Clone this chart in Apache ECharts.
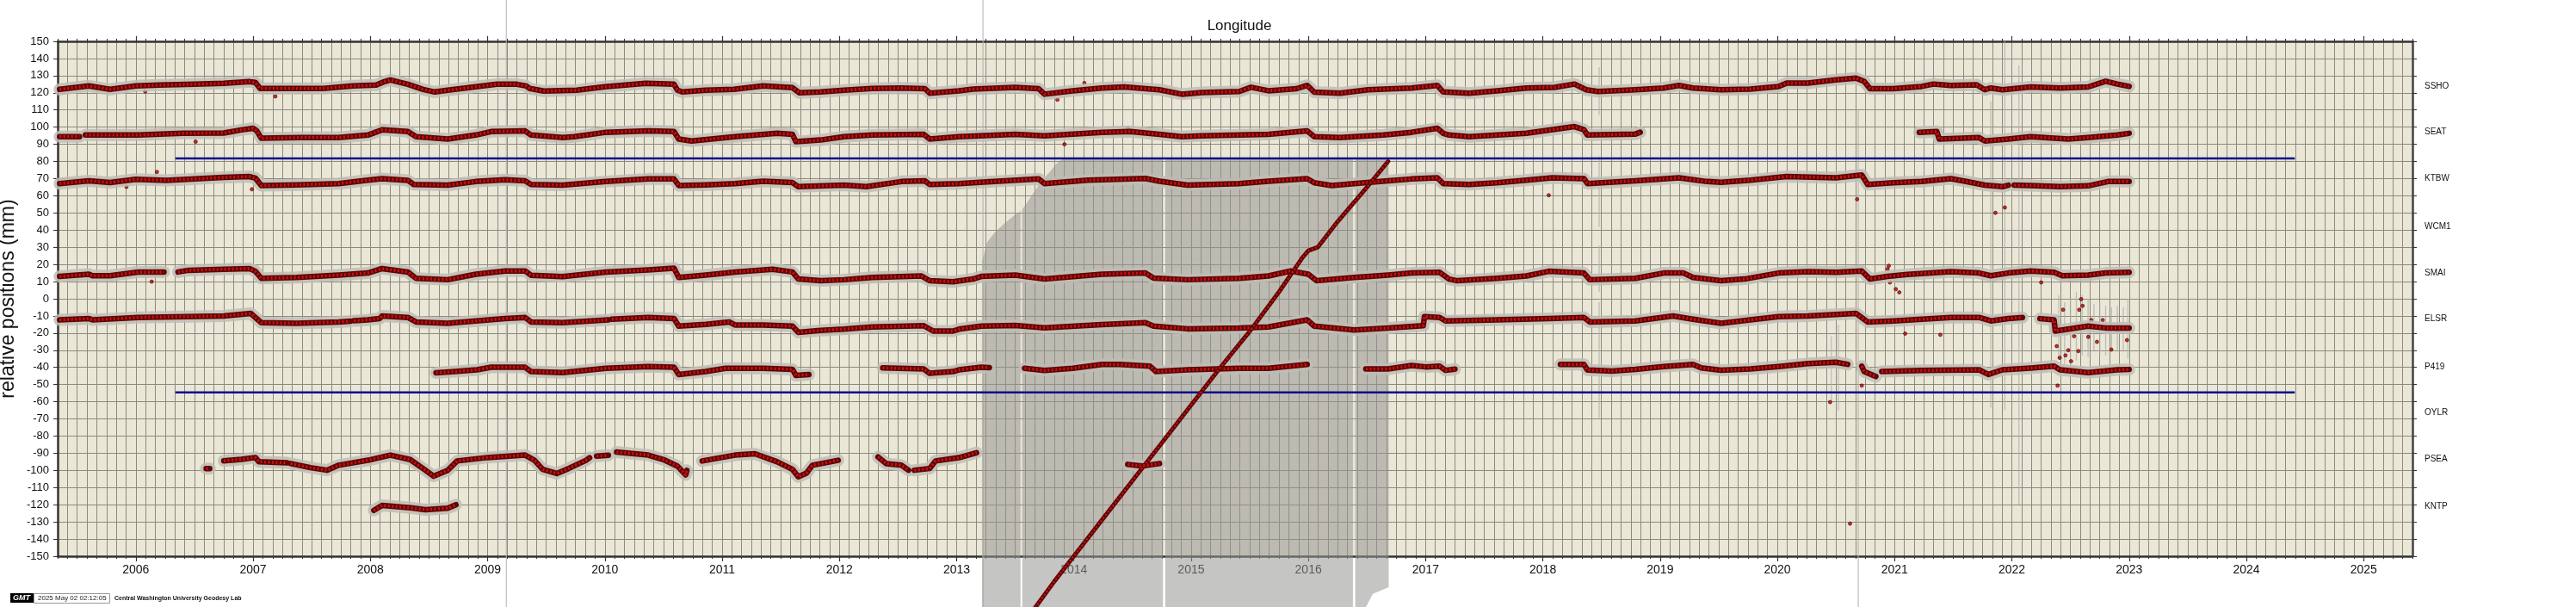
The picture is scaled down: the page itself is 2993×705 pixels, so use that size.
<!DOCTYPE html>
<html><head><meta charset="utf-8">
<script src="https://cdn.jsdelivr.net/npm/echarts@6/dist/echarts.min.js"></script>
<style>html,body{margin:0;padding:0;background:#fff}#c{width:2993px;height:705px}</style>
</head><body><div id="c"></div>
<script>
// ---------- axis / label values ----------
const YEARS = [2006,2007,2008,2009,2010,2011,2012,2013,2014,2015,2016,2017,2018,2019,2020,2021,2022,2023,2024,2025];
const STATION_NAMES = ['SSHO','SEAT','KTBW','WCM1','SMAI','ELSR','P419','OYLR','PSEA','KNTP'];
const STATION_LABEL_POS = [124, 97, 70, 42.2, 15.1, -11.8, -39.6, -66.5, -93.6, -121.2];
const BLUE_LINES = [[2006.338, 2024.413, 81.8], [2006.338, 2024.413, -54.6]];

// ---------- station series [decimal year, mm]; null = data gap ----------
const SSHO = [[2005.35,122],[2005.6,124],[2005.78,122],[2006.0,124],[2006.2,124.5],[2006.5,125],[2006.75,125.5],[2006.97,126.5],[2007.02,126],[2007.06,122.5],[2007.3,122.5],[2007.6,122.5],[2007.85,124],[2008.05,124.5],[2008.12,126.5],[2008.17,127.5],[2008.32,125],[2008.45,122],[2008.55,120.5],[2008.66,121.5],
[2008.9,123.5],[2009.08,125],[2009.25,125],[2009.33,124],[2009.36,122.5],[2009.48,121],[2009.76,121.5],[2010.0,123.5],[2010.35,125.5],[2010.59,125],[2010.62,121.5],[2010.66,120.5],[2010.86,121.5],[2011.1,122],[2011.35,124],[2011.6,123],[2011.66,120],[2011.84,120.5],[2012.04,121.5],
[2012.28,122.5],[2012.53,122.8],[2012.73,122.4],[2012.77,119.8],[2013.02,121.2],[2013.14,122.2],[2013.5,123.2],[2013.7,122.4],[2013.75,119.2],[2013.99,121.2],[2014.24,122.8],[2014.43,123.4],[2014.73,121.8],[2014.92,119.2],[2015.09,120.2],[2015.41,120.8],
[2015.51,123.2],[2015.66,121.2],[2015.9,122.4],[2015.99,124.3],[2016.05,120.4],[2016.27,119.8],[2016.51,121.8],[2016.88,122.8],[2017.1,124.3],[2017.15,120.5],[2017.37,119.8],[2017.61,121.2],[2017.86,122.8],[2018.1,123.2],[2018.27,125.1],[2018.37,121.8],[2018.47,120.8],[2018.79,121.8],
[2019.03,122.8],[2019.16,124.3],[2019.28,122.8],[2019.52,121.8],[2019.77,122.2],[2020.01,123.7],[2020.08,125.7],[2020.26,125.7],[2020.5,127.6],[2020.67,128.6],[2020.74,126.7],[2020.79,122.4],[2020.99,122.4],[2021.23,123.7],[2021.33,125.1],[2021.48,124.3],[2021.7,124.7],[2021.77,121.8],[2021.82,122.8],[2021.92,121.8],[2022.16,123.4],
[2022.41,122.8],[2022.65,123.4],[2022.8,126.7],[2022.9,125.1],[2023.0,123.7]];

const SEAT = [[2005.35,94.4],[2005.52,94.4],[2005.54,null],[2005.57,95.4],[2006.02,95.4],[2006.4,96.4],[2006.75,96.6],[2006.9,98.4],[2007.0,99.3],[2007.03,98],[2007.07,93.5],[2007.4,93.9],[2007.73,93.9],[2007.98,95.4],[2008.1,98.4],[2008.32,97.4],[2008.39,94.4],[2008.66,93.1],
[2008.9,95.4],[2009.03,97.4],[2009.32,97.8],[2009.37,95.4],[2009.64,93.9],[2009.74,94.4],[2010.01,97],[2010.37,97.8],[2010.59,97.4],[2010.63,93.1],[2010.74,91.9],[2011.11,94.4],[2011.47,96.4],[2011.6,95.8],[2011.63,91.5],[2011.84,92.5],[2012.04,94.4],
[2012.28,95.4],[2012.72,95.8],[2012.77,93.1],[2013.02,94.4],[2013.5,95.8],[2013.75,95],[2014.24,97],[2014.48,97.4],[2014.73,95.8],[2014.92,94.4],[2015.09,95],[2015.41,95.4],
[2015.66,95.8],[2015.99,97.8],[2016.05,94.4],[2016.27,93.9],[2016.64,95.4],[2016.88,97],[2017.1,99.3],[2017.15,96.4],[2017.2,95.4],[2017.37,94.4],[2017.86,96.4],[2018.27,100.3],[2018.35,98.5],[2018.38,95.4],[2018.79,96],[2018.83,97],
[2018.85,null],
[2021.21,97],[2021.36,97.4],[2021.38,93.1],[2021.72,93.9],[2021.77,91.9],[2021.97,93.1],[2022.16,94.4],
[2022.48,93.1],[2022.65,93.9],[2022.9,95.4],[2023.0,96.4]];

const KTBW = [[2005.35,67.1],[2005.6,68.7],[2005.78,67.7],[2006.0,69.6],[2006.26,69],[2006.75,70.7],[2006.97,71.2],[2007.02,70.3],[2007.07,66],[2007.37,66.4],[2007.73,67.1],[2007.98,69.1],[2008.1,70],[2008.32,69],[2008.37,66.6],[2008.66,66.2],
[2008.9,68.3],[2009.15,69.3],[2009.32,68.7],[2009.37,66.6],[2009.64,66.2],[2010.01,68.3],[2010.37,69.8],[2010.59,69.8],[2010.63,66],[2010.86,66.4],[2011.11,67.1],[2011.35,68.5],[2011.6,67.7],[2011.65,65.3],[2012.04,66.2],
[2012.23,65.3],[2012.53,68.3],[2012.73,68.7],[2012.77,66.6],[2013.02,67.1],[2013.26,68.1],[2013.7,69.8],[2013.75,67.1],[2014.12,69.1],[2014.61,70.1],[2014.73,68.5],[2014.97,66.2],[2015.41,67.1],
[2015.66,68.5],[2015.99,70],[2016.05,67.6],[2016.2,66],[2016.39,67.1],[2016.68,68.7],[2016.88,69.8],[2017.1,70.5],[2017.15,67.1],[2017.37,66.6],[2017.61,67.6],[2017.86,69.1],[2018.08,70.5],[2018.35,70],[2018.38,67.1],[2018.79,68.7],
[2019.16,70.5],[2019.4,68.3],[2019.52,67.9],[2019.77,69.1],[2020.08,71.2],[2020.5,70.5],[2020.72,72.1],[2020.77,66.6],[2020.99,67.6],[2021.23,68.3],[2021.48,70],[2021.6,68.5],[2021.77,66.2],[2021.92,65.3],[2021.97,66.2],[2021.99,null],[2022.02,66.2],[2022.16,66],
[2022.41,65.3],[2022.65,65.8],[2022.82,68.3],[2023.0,68.3]];

const SMAI = [[2005.35,13],[2005.6,14.3],[2005.63,13.4],[2005.78,13.4],[2006.02,15.6],[2006.24,15.6],[2006.25,null],[2006.36,15.6],[2006.45,16.6],[2006.75,17.2],[2006.97,17.6],[2007.02,16],[2007.07,11.9],[2007.37,12.4],[2007.73,13.8],[2007.98,15],[2008.1,17.6],[2008.32,15.6],[2008.39,11.9],[2008.66,11.1],
[2008.9,14.3],[2009.15,16.2],[2009.32,16.2],[2009.37,13.7],[2009.64,12.9],[2010.01,15.6],[2010.37,16.8],[2010.59,17.8],[2010.63,12.4],[2010.86,13.8],[2011.11,15.6],[2011.43,17.2],[2011.6,15.6],[2011.65,11.5],[2011.84,10.5],[2012.04,11.1],
[2012.28,12.4],[2012.7,13.3],[2012.77,10.5],[2012.97,9.9],[2013.14,11.5],[2013.21,13],[2013.5,13.8],[2013.75,11.5],[2014.24,14.3],[2014.61,15],[2014.68,12],[2014.97,11.1],[2015.41,11.9],
[2015.66,13.3],[2015.85,16.2],[2016.0,14.3],[2016.07,10.5],[2016.39,12.4],[2016.68,13.8],[2016.88,15],[2017.12,15.4],[2017.2,11.5],[2017.27,10.5],[2017.61,11.9],[2017.86,13.3],[2018.05,16],[2018.35,15],[2018.4,11.1],[2018.79,11.9],
[2019.03,15],[2019.2,15],[2019.28,12.4],[2019.52,10.5],[2019.72,11.5],[2020.01,15],[2020.26,15.8],[2020.5,15.4],[2020.72,16.2],[2020.79,11.5],[2020.94,13],[2021.11,14.2],[2021.48,15.8],[2021.72,15],[2021.82,13.4],[2021.97,15],[2022.16,16.2],
[2022.36,15.4],[2022.43,13.4],[2022.65,13.8],[2022.8,15],[2023.0,15.4]];

const ELSR = [[2005.35,-12.3],[2005.6,-11.5],[2005.63,-12.3],[2006.02,-10.9],[2006.75,-10],[2006.98,-8.5],[2007.07,-13.9],[2007.37,-14.3],[2007.73,-13.5],[2007.83,-13],[2007.84,null],[2007.86,-12.8],[2007.98,-12.3],[2008.08,-11.5],[2008.1,-10],[2008.32,-10.9],[2008.39,-13.5],[2008.66,-14.3],
[2008.9,-12.9],[2009.15,-11.5],[2009.32,-10.9],[2009.37,-13.5],[2009.64,-13.9],[2010.03,-12.3],[2010.04,null],[2010.06,-11.9],[2010.37,-10.9],[2010.59,-11.5],[2010.63,-15.9],[2010.86,-14.9],[2011.06,-13.5],[2011.11,-15.3],[2011.35,-15.3],[2011.6,-15.9],[2011.65,-19.6],[2011.84,-18.4],[2012.04,-17.7],
[2012.28,-16.4],[2012.72,-15.7],[2012.8,-18.8],[2012.97,-18.8],[2013.02,-17.7],[2013.21,-15.9],[2013.5,-15.5],[2013.75,-16.9],[2014.24,-15],[2014.61,-13.9],[2014.68,-15.9],[2014.97,-17.5],[2015.41,-17.1],
[2015.66,-16.4],[2015.99,-12.3],[2016.05,-15.9],[2016.39,-18.2],[2016.68,-17.1],[2016.98,-15.7],[2016.99,-10.4],[2017.12,-10.9],[2017.17,-12.9],[2017.61,-12.3],[2018.05,-11.5],[2018.35,-10.9],[2018.4,-13.5],[2018.79,-12.9],
[2019.11,-10],[2019.28,-11.9],[2019.52,-14.3],[2019.77,-12.3],[2020.01,-10.4],[2020.26,-10],[2020.67,-8.5],[2020.77,-13.5],[2020.99,-12.9],[2021.48,-10.9],[2021.72,-10.9],[2021.82,-12.9],[2021.97,-11.5],[2022.09,-10.9],[2022.11,null],[2022.24,-11.6],[2022.36,-12.3],[2022.37,-18.8],[2022.65,-15.9],[2022.8,-17],[2023.0,-17.1]];

const P419 = [[2008.56,-43.2],[2008.72,-42.4],[2008.91,-41.4],[2009.03,-39.9],[2009.32,-39.9],[2009.37,-42.4],[2009.64,-43],[2010.01,-40.5],[2010.37,-39.5],[2010.59,-39.9],[2010.63,-44.1],[2010.86,-42.4],[2011.03,-40.5],[2011.35,-40.5],[2011.6,-41.1],[2011.63,-44.7],[2011.74,-44.1],
[2011.9,null],
[2012.37,-40.3],[2012.72,-40.9],[2012.77,-43.4],[2012.97,-42.4],[2013.02,-41.4],[2013.21,-39.9],[2013.28,-40.1],
[2013.4,null],
[2013.58,-40.5],[2013.75,-41.8],[2013.99,-40.5],[2014.24,-38.3],[2014.39,-38.3],[2014.65,-39.3],[2014.7,-42.4],[2014.97,-41.4],[2015.41,-40.5],[2015.66,-40.5],[2015.99,-38.3],
[2016.2,null],
[2016.49,-40.9],[2016.68,-40.9],[2016.88,-38.9],[2017.0,-39.7],[2017.12,-39.3],[2017.17,-41.7],[2017.25,-41],
[2017.6,null],
[2018.15,-38.3],[2018.35,-38.3],[2018.38,-41.5],[2018.59,-42.1],[2018.79,-41.1],[2019.03,-39.5],[2019.28,-38.3],[2019.35,-40.3],[2019.52,-41.6],[2019.77,-40.9],[2020.01,-39.5],[2020.26,-37.8],[2020.5,-37],[2020.6,-38.2],
[2020.65,null],
[2020.72,-39.3],[2020.74,-42.4],[2020.84,-45.3],
[2020.86,null],
[2020.89,-42.4],[2021.23,-41.8],[2021.72,-41.4],[2021.8,-44.1],[2021.92,-41.4],[2022.16,-40.4],[2022.36,-39.3],[2022.41,-41.4],[2022.65,-43],[2022.9,-41.4],[2023.0,-41.2]];

const WCM1 = [[2013.22,-222],[2013.5,-196],[2013.67,-180],[2013.83,-165],[2014.0,-150],[2014.25,-128],[2014.5,-106],[2014.75,-84],[2015.0,-62],[2015.25,-40],[2015.5,-19],[2015.75,4],[2015.95,24],[2016.0,28],[2016.08,30],[2016.25,45],[2016.5,65],[2016.68,80]];

const PSEA = [[2006.6,-98.9],[2006.63,-98.9],
[2006.68,null],
[2006.75,-94.4],[2006.9,-93.6],[2007.02,-92.5],[2007.05,-95],[2007.29,-95.6],
[2007.3,null],
[2007.32,-96],[2007.49,-98.4],[2007.63,-99.9],[2007.73,-97],[2007.98,-94.1],[2008.17,-91.1],[2008.34,-93.7],[2008.47,-99.9],[2008.54,-103.4],[2008.66,-100],[2008.74,-94.5],[2009.0,-92.5],[2009.32,-91.1],[2009.4,-94.1],[2009.47,-99.4],[2009.59,-101.8],[2009.69,-98.9],[2009.84,-94.1],[2009.87,-92.6],
[2009.9,null],
[2009.93,-91.7],[2010.03,-91.2],
[2010.07,null],
[2010.1,-89.3],[2010.37,-91.1],[2010.5,-93.7],[2010.62,-97.6],[2010.69,-102.6],[2010.7,-100],
[2010.75,null],
[2010.83,-94.5],[2011.11,-91.1],[2011.28,-90.3],[2011.47,-95],[2011.6,-99.4],[2011.65,-103.7],[2011.72,-101.6],[2011.77,-97],[2011.99,-94.1],
[2012.15,null],
[2012.33,-92.2],[2012.4,-96.1],[2012.53,-97],[2012.59,-99.9],
[2012.62,null],
[2012.64,-99.9],[2012.77,-98.9],[2012.82,-94.5],[2013.02,-92.6],[2013.17,-89.7],
[2013.5,null],
[2014.46,-96.5],[2014.58,-97.5],[2014.73,-96]];

const KNTP = [[2008.03,-123.3],[2008.1,-120.4],[2008.34,-121.8],[2008.47,-122.9],[2008.66,-122],[2008.73,-120]];

// WCM1 error envelope [year, upper, lower]; null = gap between segments
const WCM1_ERR = [[2013.218,22,-260],[2013.26,33,-260],[2013.33,39,-260],[2013.41,44,-260],[2013.5,49,-260],[2013.545,51,-260],
null,
[2013.56,52,-260],[2013.6,56,-260],[2013.72,68,-260],[2013.87,80,-260],[2013.92,82,-260],[2014.76,82,-260],
null,
[2014.78,82,-260],[2016.38,82,-260],
null,
[2016.40,82,-260],[2016.45,82,-185],[2016.55,82,-172],[2016.685,82,-168]];

// isolated large error bars [year, low, high]
const ERRBARS = [[2009.16,-200,200],[2013.225,-260,200],[2018.48,107,135],[2018.48,42,83],[2018.48,4,31],[2018.48,-70,-2],
[2020.46,-61,-22],[2020.52,-65,-15],[2020.69,-200,110],[2021.82,-63.5,115],[2021.94,-65,150],[2022.06,-120,136],
[2022.40,-35,2],[2022.45,-38,-2],[2022.5,-40,0],[2022.55,-36,4],[2022.6,-33,2],[2022.65,-34,0],[2022.7,-30,-3],[2022.75,-32,-2],[2022.8,-33,-4],[2022.85,-30,-5],[2022.9,-31,-4],[2022.95,-30,-5],[2022.99,-35,0]];

// isolated points
const OUTLIERS = [[2007.19,117.9],[2006.08,120.8],[2006.51,91.5],[2006.99,63.8],[2006.18,73.9],[2005.92,65.2],[2006.135,10],[2014.09,125.7],[2013.86,116],[2013.92,90],[2014.46,99.3],[2018.05,60.3],[2020.68,58],[2021.86,50.1],[2021.94,53.2],[2020.45,-60.2],[2020.72,-50.6],[2021.09,-20.3],[2021.39,-21],[2020.62,-131],[2022.39,-50.6],[2022.25,9.5],
[2020.94,17.3],[2020.96,9.5],[2021.01,5.6],[2021.04,3.7],[2020.99,13.4],[2020.95,19.2],
[2022.383,-27.6],[2022.408,-34.4],[2022.437,-6.4],[2022.457,-33],[2022.481,-30],[2022.505,-36.4],[2022.53,-21.8],[2022.567,-30.5],[2022.574,-6.4],[2022.591,-0.2],[2022.603,-4.1],[2022.652,-22.2],[2022.677,-12.4],[2022.726,-25.1],[2022.775,-12.4],[2022.848,-29.6],[2022.897,-18.3],[2022.982,-24.1],[2022.395,-16]];

// ---------- chart ----------
const FONT = '"Liberation Sans", Arial, Helvetica, sans-serif';
const XMIN = 24064/12, XMAX = 24305/12;
const HALO = 'rgba(190,189,182,0.85)', DARK = '#5e0606', BRIGHT = '#cf1010', GRID = '#8b8a80', AXIS = '#333';

function lineSer(data, color, width, dash) {
  return {type:'line', data, symbol:'none', showSymbol:false, connectNulls:false, clip:false, silent:true,
    animation:false, xAxisIndex:0, yAxisIndex:0,
    lineStyle:{color, width, cap: dash ? 'butt' : 'round', join:'round', type: dash || 'solid'}};
}

const series = [];
BLUE_LINES.forEach(b => series.push(Object.assign(lineSer([[b[0], b[2]], [b[1], b[2]]], '#0b0b8c', 2.5), {lineStyle:{color:'#0b0b8c', width:2.5, cap:'butt'}})));
series.push({type:'custom', clip:false, silent:true, animation:false, data: ERRBARS, encode:{x:0, y:[1,2]},
  renderItem: (p, api) => {
    const a = api.coord([api.value(0), api.value(1)]), b = api.coord([api.value(0), api.value(2)]);
    return {type:'line', shape:{x1:a[0], y1:a[1], x2:b[0], y2:b[1]}, style:{stroke:'rgba(175,175,172,0.75)', lineWidth:1.3}};
  }});
const groupA = [SSHO, SEAT, KTBW, SMAI, ELSR, P419];
groupA.forEach(d => series.push(lineSer(d, HALO, 14)));
groupA.forEach(d => series.push(lineSer(d, DARK, 6.5)));
groupA.forEach(d => series.push(lineSer(d, BRIGHT, 3.5, [2, 2.5])));

// WCM1 error band segments
const segs = []; let cur = [];
WCM1_ERR.forEach(p => { if (p === null) { if (cur.length) segs.push(cur); cur = []; } else cur.push(p); });
if (cur.length) segs.push(cur);
series.push({type:'custom', clip:false, silent:true, animation:false, data: segs.map((s, i) => [s[0][0], s[0][1], i]), encode:{x:0, y:1},
  renderItem: (p, api) => {
    const s = segs[api.value(2)];
    const pts = s.map(q => api.coord([q[0], q[1]])).concat(s.slice().reverse().map(q => api.coord([q[0], q[2]])));
    return {type:'polygon', shape:{points: pts}, style:{fill:'rgba(150,150,147,0.55)'}};
  }});

[PSEA, KNTP].forEach(d => series.push(lineSer(d, HALO, 14)));
series.push(lineSer(WCM1, DARK, 5));
[PSEA, KNTP].forEach(d => series.push(lineSer(d, DARK, 6.5)));
series.push(lineSer(WCM1, BRIGHT, 2.2, [2, 2.5]));
[PSEA, KNTP].forEach(d => series.push(lineSer(d, BRIGHT, 3.5, [2, 2.5])));
series.push({type:'scatter', data: OUTLIERS, symbolSize:4, clip:false, silent:true, animation:false,
  itemStyle:{color:'#c80000', borderColor:'#3a0000', borderWidth:0.8}});

const xBase = {type:'value', min: XMIN, max: XMAX, gridIndex:0};
const chart = echarts.init(document.getElementById('c'), null, {renderer:'canvas'});
chart.setOption({
  animation:false,
  backgroundColor:'#ffffff',
  title:{text:'Longitude', left:1435, top:17, textAlign:'center',
    textStyle:{fontSize:17, fontWeight:'normal', color:'#111', fontFamily:FONT}},
  grid:{left:67, right:190, top:48, bottom:59, show:true, backgroundColor:'#ebe7d6', borderWidth:0,
    containLabel:false, outerBoundsMode:'none'},
  xAxis:[
    Object.assign({}, xBase, {position:'bottom', interval:1/12,
      axisLine:{show:true, onZero:false, lineStyle:{color:AXIS, width:2.5}},
      axisTick:{show:true, length:3, lineStyle:{color:AXIS, width:1}},
      axisLabel:{customValues: YEARS, formatter: v => String(Math.round(v)), fontSize:14, color:'#111', margin:9, fontFamily:FONT},
      splitLine:{show:true, lineStyle:{color:GRID, width:1}}}),
    Object.assign({}, xBase, {position:'top', interval:1/12,
      axisLine:{show:true, onZero:false, lineStyle:{color:AXIS, width:2.5}},
      axisTick:{show:true, length:3, lineStyle:{color:AXIS, width:1}},
      axisLabel:{show:false}, splitLine:{show:false}}),
    Object.assign({}, xBase, {position:'top',
      axisLine:{show:false, onZero:false},
      axisTick:{show:true, customValues: YEARS, length:6, lineStyle:{color:AXIS, width:1.2}},
      axisLabel:{show:false}, splitLine:{show:false}}),
    Object.assign({}, xBase, {position:'bottom',
      axisLine:{show:false, onZero:false},
      axisTick:{show:true, customValues: YEARS, length:6, lineStyle:{color:AXIS, width:1.2}},
      axisLabel:{show:false}, splitLine:{show:false}})
  ],
  yAxis:[
    {type:'value', position:'left', min:-150, max:150, interval:10,
      axisLine:{show:true, onZero:false, lineStyle:{color:AXIS, width:2.5}},
      axisTick:{show:true, length:5, lineStyle:{color:AXIS, width:1}},
      axisLabel:{fontSize:13, color:'#111', margin:10, fontFamily:FONT},
      splitLine:{show:true, lineStyle:{color:GRID, width:1}},
      name:'relative positions (mm)', nameLocation:'middle', nameGap:46, nameMoveOverlap:false,
      nameTextStyle:{fontSize:23, color:'#111', fontFamily:FONT}},
    {type:'value', position:'right', min:-150, max:150, interval:10,
      axisLine:{show:true, onZero:false, lineStyle:{color:'#444', width:2.5}},
      axisTick:{show:true, length:5, lineStyle:{color:AXIS, width:1}},
      axisLabel:{customValues: STATION_LABEL_POS, fontSize:10, color:'#111', margin:14, fontFamily:FONT,
        formatter: v => { const i = STATION_LABEL_POS.findIndex(p => Math.abs(p - v) < 1e-6); return i >= 0 ? STATION_NAMES[i] : ''; }},
      splitLine:{show:false}}
  ],
  graphic:[
    {type:'rect', left:12, top:689, shape:{width:27, height:11}, style:{fill:'#000'}},
    {type:'text', left:15, top:690, style:{text:'GMT', fill:'#fff', font:'italic bold 9px ' + FONT}},
    {type:'rect', left:39, top:689, shape:{width:88, height:11}, style:{fill:'#fff', stroke:'#999', lineWidth:1}},
    {type:'text', left:44, top:690.5, style:{text:'2025 May 02 02:12:05', fill:'#222', font:'8px ' + FONT}},
    {type:'text', left:133, top:691.5, style:{text:'Central Washington University Geodesy Lab', fill:'#111', font:'bold 7px ' + FONT}}
  ],
  series
});
</script></body></html>
